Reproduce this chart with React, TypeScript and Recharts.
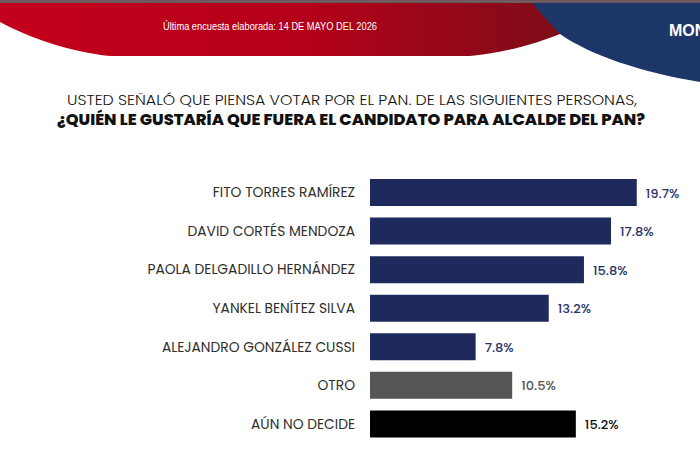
import { BarChart, Bar, XAxis, YAxis, Cell, LabelList } from 'recharts'

const candidates = [
  'FITO TORRES RAMÍREZ',
  'DAVID CORTÉS MENDOZA',
  'PAOLA DELGADILLO HERNÁNDEZ',
  'YANKEL BENÍTEZ SILVA',
  'ALEJANDRO GONZÁLEZ CUSSI',
  'OTRO',
  'AÚN NO DECIDE'
]
const percents = [19.7, 17.8, 15.8, 13.2, 7.8, 10.5, 15.2]

const NAVY = '#1f2a5c'
const GRAY = '#555555'
const BLACK = '#000000'
const barColors = [NAVY, NAVY, NAVY, NAVY, NAVY, GRAY, BLACK]
const labelColors = ['#2a3268', '#2a3268', '#2a3268', '#2a3268', '#2a3268', '#555555', '#111111']

const FONT = 'Poppins, Inter, "Noto Sans", sans-serif'
const ARIAL = "'Liberation Sans', Arial, sans-serif"

const data = candidates.map((name, i) => ({ name, value: percents[i] }))

function NameTick(props: any) {
  const { x, y, payload } = props
  return (
    <text x={x} y={y} dy={5} textAnchor="end" fill="#2e2e2e" fontSize={13.8} fontFamily={FONT}>
      {payload.value}
    </text>
  )
}

function ValueLabel(props: any) {
  const { x, y, width, height, value, index } = props
  return (
    <text
      x={x + width + 9}
      y={y + height / 2 + 5}
      fill={labelColors[index] ?? NAVY}
      fontSize={13}
      fontWeight={500}
      fontFamily={FONT}
    >
      {`${Number(value).toFixed(1)}%`}
    </text>
  )
}

function Header() {
  return (
    <svg width={700} height={140} style={{ position: 'absolute', left: 0, top: 0 }}>
      <defs>
        <linearGradient id="red" x1="0" y1="0" x2="1" y2="0">
          <stop offset="0" stopColor="#c4001c" />
          <stop offset="0.55" stopColor="#b4001a" />
          <stop offset="1" stopColor="#7e0d18" />
        </linearGradient>
      </defs>
      <path d="M0,0 L560,0 L560,34 C540,42 510,52 470,56 L110,56 C70,52 30,38 0,22 Z" fill="url(#red)" />
      <path d="M530,0 L700,0 L700,82 C640,72 590,55 560,34 C548,22 538,10 530,0 Z" fill="#1d3668" />
      <rect x={0} y={0} width={700} height={3} fill="#6e5a5e" />
      <text x={163} y={30} textLength={214} lengthAdjust="spacingAndGlyphs" fill="#ffffff" fontSize={11.5} fontFamily={ARIAL}>
        Última encuesta elaborada: 14 DE MAYO DEL 2026
      </text>
      <text x={669} y={36} fill="#ffffff" fontSize={16} fontWeight={700} fontFamily={ARIAL}>
        MON
      </text>
      <text x={67} y={105} textLength={570} lengthAdjust="spacingAndGlyphs" fill="#111111" fontSize={15} fontWeight={300} fontFamily={FONT}>
        USTED SEÑALÓ QUE PIENSA VOTAR POR EL PAN. DE LAS SIGUIENTES PERSONAS,
      </text>
      <text x={57} y={125} textLength={588} lengthAdjust="spacingAndGlyphs" fill="#111111" fontSize={15} fontWeight={800} fontFamily={FONT}>
        ¿QUIÉN LE GUSTARÍA QUE FUERA EL CANDIDATO PARA ALCALDE DEL PAN?
      </text>
    </svg>
  )
}

export default function App() {
  return (
    <div style={{ position: 'absolute', left: 0, top: 0, width: 700, height: 470, background: '#ffffff', overflow: 'hidden', fontFamily: FONT }}>
      <Header />
      <div style={{ position: 'absolute', left: 0, top: 0 }}>
        <BarChart
          width={700}
          height={470}
          data={data}
          layout="vertical"
          margin={{ top: 173, right: 5, bottom: 27, left: 0 }}
          barSize={27}
        >
          <XAxis type="number" domain={[0, 24]} hide />
          <YAxis
            type="category"
            dataKey="name"
            width={370}
            axisLine={false}
            tickLine={false}
            tickSize={0}
            tickMargin={15}
            tick={<NameTick />}
            interval={0}
          />
          <Bar dataKey="value" isAnimationActive={false}>
            {data.map((_, i) => (
              <Cell key={i} fill={barColors[i]} />
            ))}
            <LabelList dataKey="value" content={<ValueLabel />} />
          </Bar>
        </BarChart>
      </div>
    </div>
  )
}
